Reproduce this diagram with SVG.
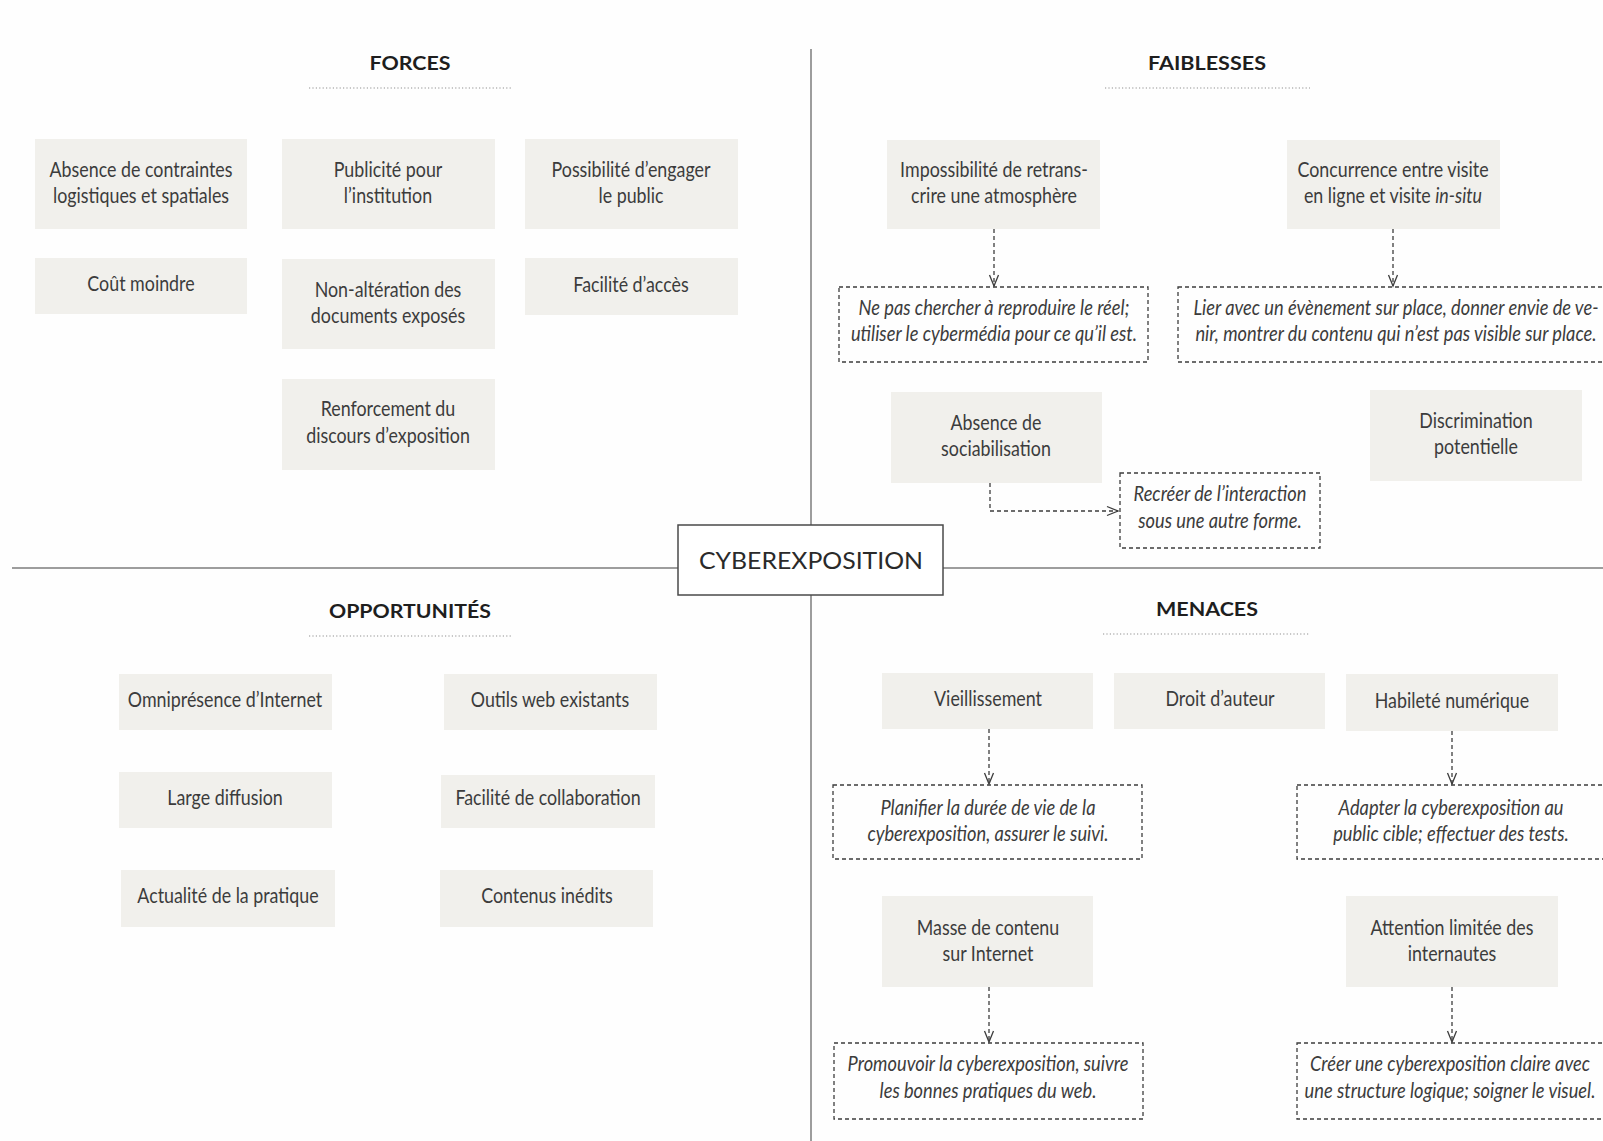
<svg xmlns="http://www.w3.org/2000/svg" width="1603" height="1141" viewBox="0 0 1603 1141">
<defs>
<style>
  .bg{fill:#fefefe}
  .axis{stroke:#7d7d7d;stroke-width:1.5;fill:none}
  .rule{stroke:#8f8f8f;stroke-width:1.2;stroke-dasharray:1.2 2.2;fill:none}
  .box{fill:#f1f0ec}
  .note{fill:none;stroke:#3d3d3d;stroke-width:1.3;stroke-dasharray:4 3}
  .core{fill:#fff;stroke:#4a4a4a;stroke-width:1.5}
  .t{font-family:Lato,"Liberation Sans",sans-serif;font-size:21px;fill:#3c3c3c;text-anchor:middle}
  .it{font-style:italic}
  .h{font-family:Lato,"Liberation Sans",sans-serif;font-weight:700;font-size:19px;fill:#1e1e1e;text-anchor:middle}
  .core-t{font-family:Lato,"Liberation Sans",sans-serif;font-size:24px;fill:#2a2a2a;text-anchor:middle}
  .link{fill:none;stroke:#3d3d3d;stroke-width:1.3;stroke-dasharray:4 3}
</style>
<marker id="chev" markerUnits="userSpaceOnUse" orient="auto" refX="0" refY="0" overflow="visible" markerWidth="12" markerHeight="12">
  <path d="M-11,-4.5 L0,0 L-11,4.5" fill="none" stroke="#3d3d3d" stroke-width="1.3"/>
</marker>
</defs>

<rect class="bg" x="0" y="0" width="1603" height="1141"/>

<!-- quadrant axes -->
<g id="axes">
  <line class="axis" x1="811" y1="49" x2="811" y2="1141"/>
  <line class="axis" x1="12" y1="568" x2="1603" y2="568"/>
</g>

<!-- quadrant headings -->
<g id="headings">
  <text class="h" x="410" y="70" textLength="81" lengthAdjust="spacingAndGlyphs">FORCES</text>
  <line class="rule" x1="309" y1="88" x2="513" y2="88"/>
  <text class="h" x="1207" y="70" textLength="118" lengthAdjust="spacingAndGlyphs">FAIBLESSES</text>
  <line class="rule" x1="1105" y1="88" x2="1310" y2="88"/>
  <text class="h" x="410" y="618" textLength="162" lengthAdjust="spacingAndGlyphs">OPPORTUNITÉS</text>
  <line class="rule" x1="309" y1="636" x2="513" y2="636"/>
  <text class="h" x="1207" y="616" textLength="102" lengthAdjust="spacingAndGlyphs">MENACES</text>
  <line class="rule" x1="1103" y1="634" x2="1310" y2="634"/>
</g>

<!-- connectors -->
<g id="connectors">
  <path class="link" d="M994,229 V286" marker-end="url(#chev)"/>
  <path class="link" d="M1393,229 V286" marker-end="url(#chev)"/>
  <path class="link" d="M990,483 V511 H1118" marker-end="url(#chev)"/>
  <path class="link" d="M989,729 V784" marker-end="url(#chev)"/>
  <path class="link" d="M1452,731 V784" marker-end="url(#chev)"/>
  <path class="link" d="M989,987 V1042" marker-end="url(#chev)"/>
  <path class="link" d="M1452,987 V1042" marker-end="url(#chev)"/>
</g>

<!-- centre -->
<g id="core">
  <rect class="core" x="678" y="525" width="265" height="70"/>
  <text class="core-t" x="811" y="569" textLength="224" lengthAdjust="spacingAndGlyphs">CYBEREXPOSITION</text>
</g>

<!-- FORCES -->
<g id="f-absence">
  <rect class="box" x="35" y="139" width="212" height="90"/>
  <text class="t" transform="translate(141 0) scale(0.85 1)"><tspan x="0" y="177">Absence de contraintes</tspan><tspan x="0" y="203.5">logistiques et spatiales</tspan></text>
</g>
<g id="f-publicite">
  <rect class="box" x="282" y="139" width="213" height="90"/>
  <text class="t" transform="translate(388 0) scale(0.85 1)"><tspan x="0" y="177">Publicité pour</tspan><tspan x="0" y="203.5">l’institution</tspan></text>
</g>
<g id="f-engager">
  <rect class="box" x="525" y="139" width="213" height="90"/>
  <text class="t" transform="translate(631 0) scale(0.85 1)"><tspan x="0" y="177">Possibilité d’engager</tspan><tspan x="0" y="203.5">le public</tspan></text>
</g>
<g id="f-cout">
  <rect class="box" x="35" y="258" width="212" height="56"/>
  <text class="t" transform="translate(141 0) scale(0.85 1)" x="0" y="291.5">Coût moindre</text>
</g>
<g id="f-alteration">
  <rect class="box" x="282" y="259" width="213" height="90"/>
  <text class="t" transform="translate(388 0) scale(0.85 1)"><tspan x="0" y="297">Non-altération des</tspan><tspan x="0" y="323.5">documents exposés</tspan></text>
</g>
<g id="f-acces">
  <rect class="box" x="525" y="258" width="213" height="57"/>
  <text class="t" transform="translate(631 0) scale(0.85 1)" x="0" y="292">Facilité d’accès</text>
</g>
<g id="f-discours">
  <rect class="box" x="282" y="379" width="213" height="91"/>
  <text class="t" transform="translate(388 0) scale(0.85 1)"><tspan x="0" y="416.5">Renforcement du</tspan><tspan x="0" y="443">discours d’exposition</tspan></text>
</g>

<!-- FAIBLESSES -->
<g id="w-atmosphere">
  <rect class="box" x="887" y="140" width="213" height="89"/>
  <text class="t" transform="translate(994 0) scale(0.85 1)"><tspan x="0" y="177">Impossibilité de retrans-</tspan><tspan x="0" y="203.5">crire une atmosphère</tspan></text>
</g>
<g id="w-concurrence">
  <rect class="box" x="1287" y="140" width="213" height="89"/>
  <text class="t" transform="translate(1393 0) scale(0.85 1)"><tspan x="0" y="177">Concurrence entre visite</tspan><tspan x="0" y="203.5">en ligne et visite <tspan class="it">in-situ</tspan></tspan></text>
</g>
<g id="w-note-reel">
  <rect class="note" x="839" y="287" width="309" height="75"/>
  <text class="t it" transform="translate(994 0) scale(0.87 1)"><tspan x="0" y="315">Ne pas chercher à reproduire le réel;</tspan><tspan x="0" y="341.5">utiliser le cybermédia pour ce qu’il est.</tspan></text>
</g>
<g id="w-note-lier">
  <rect class="note" x="1178" y="287" width="430" height="75"/>
  <text class="t it" transform="translate(1396 0) scale(0.87 1)"><tspan x="0" y="315">Lier avec un évènement sur place, donner envie de ve-</tspan><tspan x="0" y="341.5">nir, montrer du contenu qui n’est pas visible sur place.</tspan></text>
</g>
<g id="w-sociabilisation">
  <rect class="box" x="891" y="392" width="211" height="91"/>
  <text class="t" transform="translate(996 0) scale(0.85 1)"><tspan x="0" y="430">Absence de</tspan><tspan x="0" y="456.5">sociabilisation</tspan></text>
</g>
<g id="w-discrimination">
  <rect class="box" x="1370" y="390" width="212" height="91"/>
  <text class="t" transform="translate(1476 0) scale(0.85 1)"><tspan x="0" y="428">Discrimination</tspan><tspan x="0" y="454.5">potentielle</tspan></text>
</g>
<g id="w-note-interaction">
  <rect class="note" x="1120" y="473" width="200" height="75"/>
  <text class="t it" transform="translate(1220 0) scale(0.87 1)"><tspan x="0" y="501.5">Recréer de l’interaction</tspan><tspan x="0" y="528">sous une autre forme.</tspan></text>
</g>

<!-- OPPORTUNITÉS -->
<g id="o-internet">
  <rect class="box" x="119" y="674" width="213" height="56"/>
  <text class="t" transform="translate(225 0) scale(0.85 1)" x="0" y="707">Omniprésence d’Internet</text>
</g>
<g id="o-outils">
  <rect class="box" x="444" y="674" width="213" height="56"/>
  <text class="t" transform="translate(550 0) scale(0.85 1)" x="0" y="707">Outils web existants</text>
</g>
<g id="o-diffusion">
  <rect class="box" x="119" y="772" width="213" height="56"/>
  <text class="t" transform="translate(225 0) scale(0.85 1)" x="0" y="805">Large diffusion</text>
</g>
<g id="o-collaboration">
  <rect class="box" x="441" y="775" width="214" height="53"/>
  <text class="t" transform="translate(548 0) scale(0.85 1)" x="0" y="805">Facilité de collaboration</text>
</g>
<g id="o-actualite">
  <rect class="box" x="121" y="870" width="214" height="57"/>
  <text class="t" transform="translate(228 0) scale(0.85 1)" x="0" y="903">Actualité de la pratique</text>
</g>
<g id="o-inedits">
  <rect class="box" x="440" y="870" width="213" height="57"/>
  <text class="t" transform="translate(547 0) scale(0.85 1)" x="0" y="903">Contenus inédits</text>
</g>

<!-- MENACES -->
<g id="m-vieillissement">
  <rect class="box" x="882" y="673" width="211" height="56"/>
  <text class="t" transform="translate(988 0) scale(0.85 1)" x="0" y="706.5">Vieillissement</text>
</g>
<g id="m-droit">
  <rect class="box" x="1114" y="673" width="211" height="56"/>
  <text class="t" transform="translate(1220 0) scale(0.85 1)" x="0" y="706">Droit d’auteur</text>
</g>
<g id="m-habilete">
  <rect class="box" x="1346" y="674" width="212" height="57"/>
  <text class="t" transform="translate(1452 0) scale(0.85 1)" x="0" y="708">Habileté numérique</text>
</g>
<g id="m-note-duree">
  <rect class="note" x="833" y="785" width="309" height="74"/>
  <text class="t it" transform="translate(988 0) scale(0.87 1)"><tspan x="0" y="815">Planifier la durée de vie de la</tspan><tspan x="0" y="841.5">cyberexposition, assurer le suivi.</tspan></text>
</g>
<g id="m-note-public">
  <rect class="note" x="1297" y="785" width="310" height="74"/>
  <text class="t it" transform="translate(1451 0) scale(0.87 1)"><tspan x="0" y="815">Adapter la cyberexposition au</tspan><tspan x="0" y="841.5">public cible; effectuer des tests.</tspan></text>
</g>
<g id="m-masse">
  <rect class="box" x="882" y="896" width="211" height="91"/>
  <text class="t" transform="translate(988 0) scale(0.85 1)"><tspan x="0" y="935">Masse de contenu</tspan><tspan x="0" y="961.5">sur Internet</tspan></text>
</g>
<g id="m-attention">
  <rect class="box" x="1346" y="896" width="212" height="91"/>
  <text class="t" transform="translate(1452 0) scale(0.85 1)"><tspan x="0" y="935">Attention limitée des</tspan><tspan x="0" y="961.5">internautes</tspan></text>
</g>
<g id="m-note-promouvoir">
  <rect class="note" x="834" y="1043" width="309" height="76"/>
  <text class="t it" transform="translate(988 0) scale(0.87 1)"><tspan x="0" y="1071.5">Promouvoir la cyberexposition, suivre</tspan><tspan x="0" y="1098">les bonnes pratiques du web.</tspan></text>
</g>
<g id="m-note-clarte">
  <rect class="note" x="1297" y="1043" width="310" height="76"/>
  <text class="t it" transform="translate(1450 0) scale(0.87 1)"><tspan x="0" y="1071.5">Créer une cyberexposition claire avec</tspan><tspan x="0" y="1098">une structure logique; soigner le visuel.</tspan></text>
</g>
</svg>
